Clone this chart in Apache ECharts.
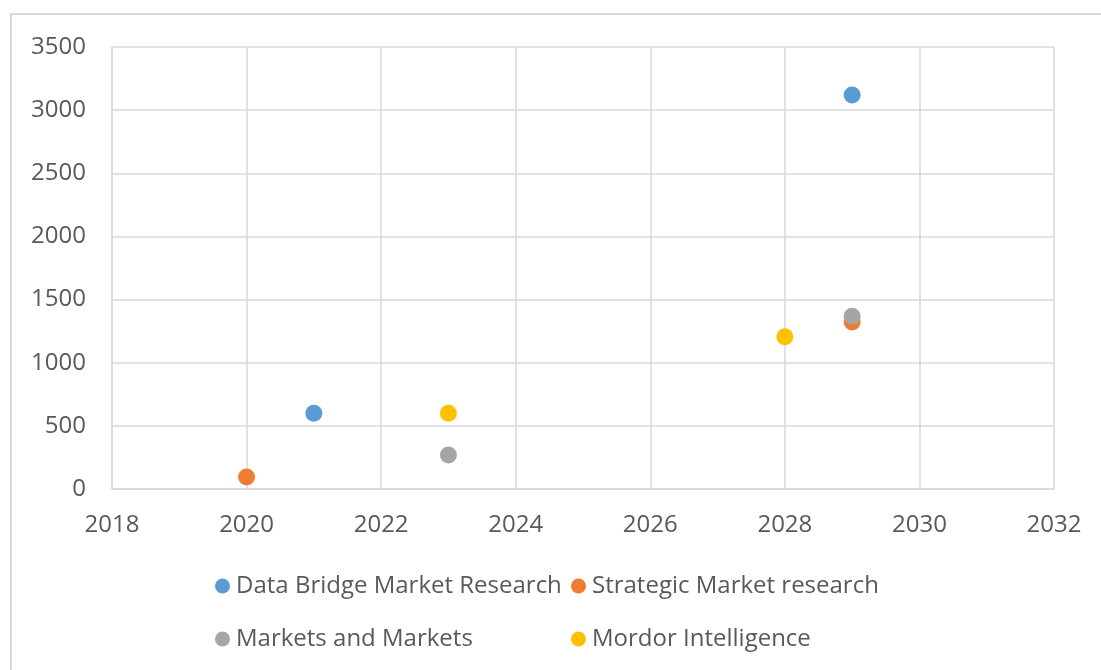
<!DOCTYPE html>
<html>
<head>
<meta charset="utf-8">
<script src="https://cdn.jsdelivr.net/npm/echarts@6/dist/echarts.min.js"></script>
<style>
  html, body { margin: 0; padding: 0; background: #fff; }
  #frame { position: absolute; left: 10px; top: 13px; width: 1101px; height: 670px; border: 2px solid #d9d9d9; box-sizing: border-box; }
  #chart { position: absolute; left: 0; top: 0; width: 1101px; height: 670px; }
</style>
</head>
<body>
<div id="frame"></div>
<div id="chart"></div>
<script>
// Market size estimates by source: [year, value]
const seriesNames = [
  'Data Bridge Market Research',
  'Strategic Market research',
  'Markets and Markets',
  'Mordor Intelligence'
];
const dataBridge = [[2021, 600], [2029, 3120]];
const strategic = [[2020, 95], [2029, 1322]];
const marketsAndMarkets = [[2023, 270], [2029, 1368]];
const mordor = [[2023, 600], [2028, 1205]];
const colors = ['#5b9bd5', '#ed7d31', '#a5a5a5', '#ffc000'];

const xTicks = { min: 2018, max: 2032, interval: 2 };
const yTicks = { min: 0, max: 3500, interval: 500 };

const font = "'Open Sans', 'Noto Sans', sans-serif";
const textColor = '#595959';
const gridColor = '#d9d9d9';

const chart = echarts.init(document.getElementById('chart'), null, { renderer: 'canvas' });

const values = [dataBridge, strategic, marketsAndMarkets, mordor];

// one legend per entry so the entries line up in two columns
const legendPos = [
  { left: 210, top: 569 },
  { left: 566, top: 569 },
  { left: 210, top: 622 },
  { left: 566, top: 622 }
];

chart.setOption({
  animation: false,
  color: colors,
  grid: { left: 112, top: 47, right: 47, bottom: 181, containLabel: false },
  legend: seriesNames.map((n, i) => ({
    data: [n],
    left: legendPos[i].left,
    top: legendPos[i].top,
    icon: 'circle',
    itemWidth: 15,
    itemHeight: 15,
    itemGap: 0,
    selectedMode: false,
    textStyle: { color: textColor, fontSize: 24, fontFamily: font, padding: [0, 0, 0, 1] }
  })),
  xAxis: {
    type: 'value',
    min: xTicks.min, max: xTicks.max, interval: xTicks.interval,
    axisLine: { show: true, lineStyle: { color: gridColor, width: 1.5 } },
    axisTick: { show: false },
    splitLine: { show: true, lineStyle: { color: gridColor, width: 1.5 } },
    axisLabel: { color: textColor, fontSize: 24, fontFamily: font, margin: 24, formatter: v => String(v) }
  },
  yAxis: {
    type: 'value',
    min: yTicks.min, max: yTicks.max, interval: yTicks.interval,
    axisLine: { show: true, lineStyle: { color: gridColor, width: 1.5 } },
    axisTick: { show: false },
    splitLine: { show: true, lineStyle: { color: gridColor, width: 1.5 } },
    axisLabel: { color: textColor, fontSize: 24, fontFamily: font, margin: 26, formatter: v => String(v) }
  },
  series: seriesNames.map((n, i) => ({
    name: n,
    type: 'scatter',
    symbol: 'circle',
    symbolSize: 17,
    data: values[i],
    itemStyle: { color: colors[i], opacity: 1 }
  }))
});
</script>
</body>
</html>
